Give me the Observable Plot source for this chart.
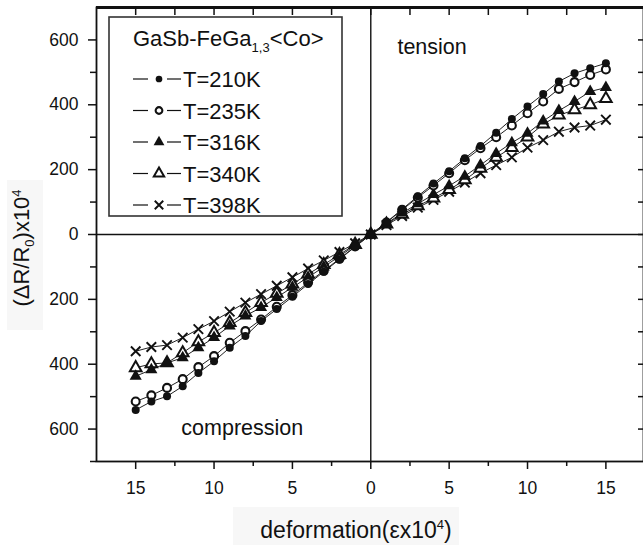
<!DOCTYPE html>
<html><head><meta charset="utf-8">
<script src="https://cdn.jsdelivr.net/npm/d3@7"></script>
<script src="https://cdn.jsdelivr.net/npm/@observablehq/plot@0.6"></script>
<style>
body{margin:0;background:#fff;font-family:"Liberation Sans",Arial,sans-serif;color:#111}
#wrap{position:relative;width:643px;height:545px;overflow:hidden;background:#fff}
#wrap svg{position:absolute;left:0;top:0}
.lab{position:absolute;white-space:nowrap;color:#111;line-height:1}
.lab sup,.lab sub{font-size:13px}
.bg{position:absolute;background:#f7f7f7}
</style></head><body><div id="wrap"></div>
<script>
// deformation (εx10^4), signed: negative = compression
const deformation = [-15,-14,-13,-12,-11,-10,-9,-8,-7,-6,-5,-4,-3,-2,-1,0,1,2,3,4,5,6,7,8,9,10,11,12,13,14,15];
const seriesNames = ["T=210K","T=235K","T=316K","T=340K","T=398K"];
const t210 = [-541,-515,-499,-468,-427,-391,-349,-313,-267,-230,-192,-153,-115,-77,-38,0,38,78,118,157,195,235,273,314,356,395,433,472,497,513,528];
const t235 = [-515,-496,-473,-446,-409,-375,-334,-298,-262,-223,-187,-148,-112,-75,-37,0,37,76,114,151,189,229,266,300,336,374,410,449,470,492,509];
const t316 = [-437,-417,-396,-380,-349,-318,-282,-251,-225,-194,-163,-132,-100,-67,-34,0,34,66,95,123,150,180,214,250,283,312,350,382,410,441,453];
const t340 = [-411,-399,-396,-365,-331,-303,-272,-241,-210,-182,-153,-122,-93,-62,-31,0,32,62,88,112,138,168,204,238,268,300,340,368,384,400,419];
const t398 = [-360,-347,-341,-318,-292,-267,-238,-210,-184,-158,-132,-105,-80,-54,-27,0,29,57,83,107,132,160,189,214,238,268,291,317,330,336,354];
const seriesValues = [t210,t235,t316,t340,t398];
const xMajorTicks = [-15,-10,-5,0,5,10,15];
const xMinorTicks = [-12.5,-7.5,-2.5,2.5,7.5,12.5];
const xTopTicks = [-15,-12.5,-10,-7.5,-5,-2.5,0,2.5,5,7.5,10,12.5,15];
const yMajorTicks = [-600,-400,-200,0,200,400,600];
const yMinorTicks = [-700,-500,-300,-100,100,300,500];
const yRightTicks = [-600,-500,-400,-300,-200,-100,0,100,200,300,400,500,600];

const rows = [];
seriesNames.forEach((s,i)=>deformation.forEach((x,j)=>rows.push({series:s,x,y:seriesValues[i][j]})));

const ink = "#111";
const styles = {
  "T=210K": {symbol:"circle", fill:ink, stroke:"none", r:4},
  "T=235K": {symbol:"circle", fill:"white", stroke:ink, strokeWidth:2.1, r:4},
  "T=316K": {symbol:"triangle", fill:ink, stroke:"none", r:4.5},
  "T=340K": {symbol:"triangle", fill:"white", stroke:ink, strokeWidth:2, r:4.3},
  "T=398K": {symbol:"times", fill:"none", stroke:ink, strokeWidth:1.9, r:4.4}
};
const drawOrder = ["T=398K","T=340K","T=316K","T=235K","T=210K"];

const chart = Plot.plot({
  width: 643, height: 545,
  marginLeft: 96, marginRight: 0, marginTop: 7, marginBottom: 84,
  x: {domain: [-17.5, 17.4]},
  y: {domain: [-700, 700]},
  style: {fontFamily: "'Liberation Sans', Arial, sans-serif", fontSize: "17px", color: ink, background: "transparent", overflow: "visible"},
  marks: [
    Plot.ruleY([0], {stroke: ink, strokeWidth: 1.4}),
    Plot.ruleX([0], {stroke: ink, strokeWidth: 1.4}),
    Plot.line(rows, {x: "x", y: "y", z: "series", stroke: "#222", strokeWidth: 1}),
    ...drawOrder.map(s => Plot.dot(rows.filter(d => d.series === s), {x: "x", y: "y", ...styles[s]})),
    Plot.axisX({ticks: xMajorTicks, tickFormat: d => Math.abs(d), tickSize: 8, tickPadding: 12, label: null, strokeWidth: 1.5, fontSize: 17.5}),
    Plot.axisX({ticks: xMinorTicks, tickFormat: () => "", tickSize: 5, label: null, strokeWidth: 1.5}),
    Plot.axisX({anchor: "top", ticks: xTopTicks, tickFormat: () => "", tickSize: -7, label: null, strokeWidth: 1.5}),
    Plot.axisY({ticks: yMajorTicks, tickFormat: d => Math.abs(d), tickSize: 8, tickPadding: 10, label: null, strokeWidth: 1.5, fontSize: 17.5}),
    Plot.axisY({ticks: yMinorTicks, tickFormat: () => "", tickSize: 6, label: null, strokeWidth: 1.5}),
    Plot.axisY({anchor: "right", ticks: yRightTicks, tickFormat: () => "", tickSize: -6, label: null, strokeWidth: 1.5}),
    Plot.frame({stroke: ink, strokeWidth: 1.8}),
    Plot.ruleY([700], {stroke: ink, strokeWidth: 3}),
    Plot.text(["tension"], {x: 1.7, y: 577, text: d => d, textAnchor: "start", fontSize: 21.5, fill: ink}),
    Plot.text(["compression"], {x: -8.2, y: -598, text: d => d, fontSize: 21.5, fill: ink})
  ]
});

const wrap = document.getElementById("wrap");
// faint label backgrounds
wrap.insertAdjacentHTML("beforeend", `<div class="bg" style="left:7px;top:180px;width:36px;height:150px"></div><div class="bg" style="left:233px;top:507px;width:226px;height:38px"></div>`);
wrap.appendChild(chart);
wrap.insertAdjacentHTML("beforeend",
  `<div class="lab" style="left:356px;top:530px;font-size:23px;transform:translate(-50%,-50%)">deformation(εx10<sup>4</sup>)</div>
   <div class="lab" style="left:23px;top:248px;font-size:22px;transform:translate(-50%,-50%) rotate(-90deg)">(ΔR/R<sub>0</sub>)x10<sup>4</sup></div>`);

// Legend box
const lg = d3.select(wrap).append("svg")
  .attr("width", 236).attr("height", 202)
  .style("left", "108px").style("top", "16px")
  .style("font-family", "'Liberation Sans', Arial, sans-serif");
lg.append("rect").attr("x", 1).attr("y", 1).attr("width", 233).attr("height", 199)
  .attr("fill", "white").attr("stroke", "#333").attr("stroke-width", 1.6);
const title = lg.append("text").attr("x", 25).attr("y", 30).attr("font-size", 22).attr("fill", ink);
title.append("tspan").text("GaSb-FeGa");
title.append("tspan").attr("font-size", 13).attr("dy", 6).text("1,3");
title.append("tspan").attr("dy", -6).text("<Co>");
const symMap = {circle: d3.symbolCircle, triangle: d3.symbolTriangle, times: d3.symbolTimes};
seriesNames.forEach((s, i) => {
  const cy = 63 + i * 31.5;
  const st = styles[s];
  lg.append("line").attr("x1", 25).attr("x2", 40).attr("y1", cy).attr("y2", cy).attr("stroke", ink).attr("stroke-width", 1.2);
  lg.append("line").attr("x1", 59).attr("x2", 73).attr("y1", cy).attr("y2", cy).attr("stroke", ink).attr("stroke-width", 1.2);
  lg.append("path").attr("transform", `translate(51,${cy})`)
    .attr("d", d3.symbol(symMap[st.symbol], Math.PI * st.r * st.r * (st.symbol === "circle" ? 0.7 : 0.8))())
    .attr("fill", st.fill).attr("stroke", st.stroke).attr("stroke-width", st.strokeWidth || 0);
  lg.append("text").attr("x", 75).attr("y", cy + 8).attr("font-size", 22).attr("fill", ink).text(s);
});
</script></body></html>
